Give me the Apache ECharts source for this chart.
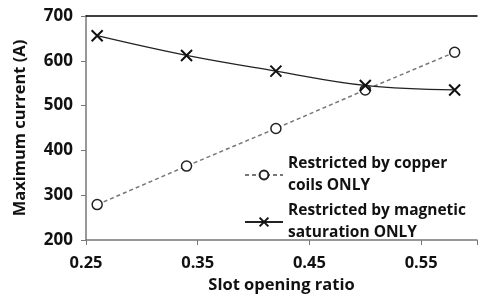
<!DOCTYPE html>
<html>
<head>
<meta charset="utf-8">
<script src="https://cdn.jsdelivr.net/npm/echarts@6/dist/echarts.min.js"></script>
<style>
  html, body { margin: 0; padding: 0; background: #fff; }
  #chart { width: 480px; height: 299px; }
</style>
</head>
<body>
<div id="chart"></div>
<script>
var ratios = [0.26, 0.34, 0.42, 0.50, 0.58];
var copperLimit = [279, 365, 449, 535, 619];
var magneticLimit = [656, 612, 577, 545, 535];
var xTicks = [0.25, 0.35, 0.45, 0.55];

var font = "'Open Sans', 'Noto Sans', sans-serif";

function pairs(xs, ys) {
  return xs.map(function (x, i) { return [x, ys[i]]; });
}

var chart = echarts.init(document.getElementById('chart'));

chart.setOption({
  animation: false,
  grid: { left: 86, right: -6, top: 16, bottom: 56 },
  xAxis: [
    {
      type: 'value',
      min: 0.25,
      max: 0.6,
      interval: 0.1,
      name: 'Slot opening ratio',
      nameLocation: 'middle',
      nameGap: 37,
      nameTextStyle: { fontFamily: font, fontWeight: 'bold', fontSize: 16.5, color: '#111' },
      axisLine: { lineStyle: { color: '#777', width: 1.5 } },
      axisTick: { show: true, inside: false, length: 5, lineStyle: { color: '#777' } },
      axisLabel: {
        fontFamily: font, fontWeight: 'bold', fontSize: 16.5, color: '#111', margin: 15,
        formatter: function (v) {
          var r = Math.round(v * 100) / 100;
          return xTicks.indexOf(r) >= 0 ? r.toFixed(2) : '';
        }
      },
      splitLine: { show: false }
    },
    {
      type: 'value',
      position: 'top',
      min: 0.25,
      max: 0.6,
      axisLine: { show: true, onZero: false, lineStyle: { color: '#000', width: 1.5 } },
      axisTick: { show: false },
      axisLabel: { show: false },
      splitLine: { show: false }
    }
  ],
  yAxis: {
    type: 'value',
    min: 200,
    max: 700,
    interval: 100,
    name: 'Maximum current (A)',
    nameLocation: 'middle',
    nameGap: 57,
    nameTextStyle: { fontFamily: font, fontWeight: 'bold', fontSize: 16.5, color: '#111' },
    axisLine: { show: true, lineStyle: { color: '#777', width: 1.5 } },
    axisTick: { show: true, length: 5, lineStyle: { color: '#777' } },
    axisLabel: { fontFamily: font, fontWeight: 'bold', fontSize: 17, color: '#111', margin: 13 },
    splitLine: { show: false }
  },
  legend: {
    left: 244,
    top: 153,
    padding: 0,
    orient: 'vertical',
    itemWidth: 38,
    itemHeight: 11,
    itemGap: 3,
    textStyle: { fontFamily: font, fontWeight: 'bold', fontSize: 15.5, color: '#111', lineHeight: 22 },
    data: [
      { name: 'Restricted by copper\ncoils ONLY' },
      { name: 'Restricted by magnetic\nsaturation ONLY' }
    ]
  },
  series: [
    {
      name: 'Restricted by copper\ncoils ONLY',
      type: 'line',
      data: pairs(ratios, copperLimit),
      symbol: 'circle',
      symbolSize: 10,
      lineStyle: { color: '#777', width: 1.5, type: [4, 3] },
      itemStyle: { color: '#fff', borderColor: '#222', borderWidth: 1.5 }
    },
    {
      name: 'Restricted by magnetic\nsaturation ONLY',
      type: 'line',
      data: pairs(ratios, magneticLimit),
      smooth: 0.4,
      symbol: 'path://M0,0L10,10M10,0L0,10',
      symbolSize: 11,
      lineStyle: { color: '#222', width: 1.3 },
      itemStyle: { color: 'none', borderColor: '#111', borderWidth: 2 }
    }
  ]
});
</script>
</body>
</html>
